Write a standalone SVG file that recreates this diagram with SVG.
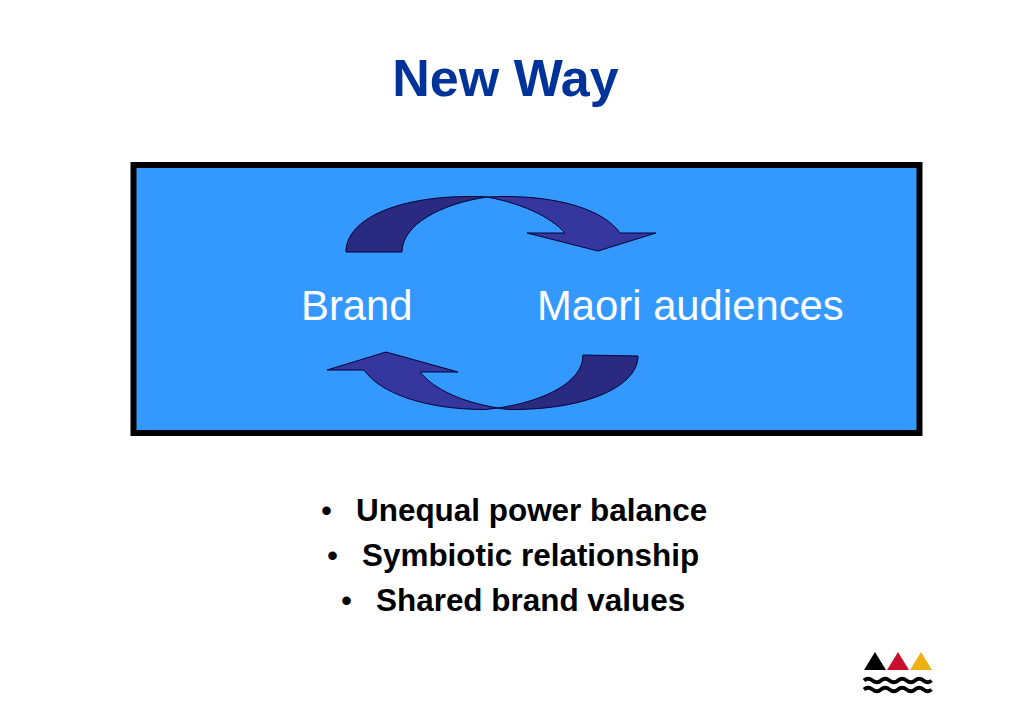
<svg xmlns="http://www.w3.org/2000/svg" width="1023" height="708" viewBox="0 0 1023 708">
<style>
text{font-family:"Liberation Sans",Arial,sans-serif}
.title{font-size:52px;font-weight:700;fill:#003399}
.lbl{font-size:41.800px;fill:#fff}
.bul{font-size:31.450px;font-weight:700;fill:#000}
.dot{font-size:31.450px;fill:#000}
.dark{fill:#2a2a80;stroke:#000033;stroke-width:1}
.light{fill:#36369f;stroke:#000033;stroke-width:1}
.wave{fill:none;stroke:#000;stroke-width:3.800}
</style>
<rect width="1023" height="708" fill="#fff"/>
<text id="title" class="title" x="505.500" y="96" text-anchor="middle">New Way</text>
<g id="panel"><rect x="133.500" y="165" width="786" height="268" fill="#3399ff" stroke="#000" stroke-width="6"/></g>
<g id="connectors">
<path class="light" d="M487 197L505 196.500C560 196.500 604 210 620 233H656L598 251L527 233H565C550 216 520 203 487 197Z"/>
<path class="dark" d="M346 252C346 220 395 196.500 470 196.500C476 196.500 482 196.500 487 197C440 204 402 225 402 252Z"/>
<path class="light" d="M498 408L485 409.500C425 409.500 380 393 364 370H327L386 352L458 372H420C435 390 462 402 498 408Z"/>
<path class="dark" d="M583 355L638 356C638 385 590 409.500 512 409.500C507 409.500 502 409 498 408C545 401 583 382 583 355Z"/>
</g>
<g id="brand"><text class="lbl" x="301" y="320">Brand</text></g>
<g id="maori"><text class="lbl" x="537" y="320">Maori audiences</text></g>
<g id="bullets">
<text class="dot" x="321" y="521">•</text><text class="bul" x="356" y="521">Unequal power balance</text>
<text class="dot" x="327" y="566">•</text><text class="bul" x="362" y="566">Symbiotic relationship</text>
<text class="dot" x="341" y="611">•</text><text class="bul" x="376" y="611">Shared brand values</text>
</g>
<g id="logo">
<path d="M864 670L875 652L886 670Z" fill="#000"/>
<path d="M887 670L898 652L909 670Z" fill="#c8102e"/>
<path d="M910 670L921 652L932 670Z" fill="#eeb111"/>
<path class="wave" d="M864 680.500q4-3.500 8.500 0t8.500 0t8.500 0t8.500 0t8.500 0t8.500 0t8.500 0t8 0"/>
<path class="wave" d="M864 689.500q4-3.500 8.500 0t8.500 0t8.500 0t8.500 0t8.500 0t8.500 0t8.500 0t8 0"/>
</g>
</svg>
